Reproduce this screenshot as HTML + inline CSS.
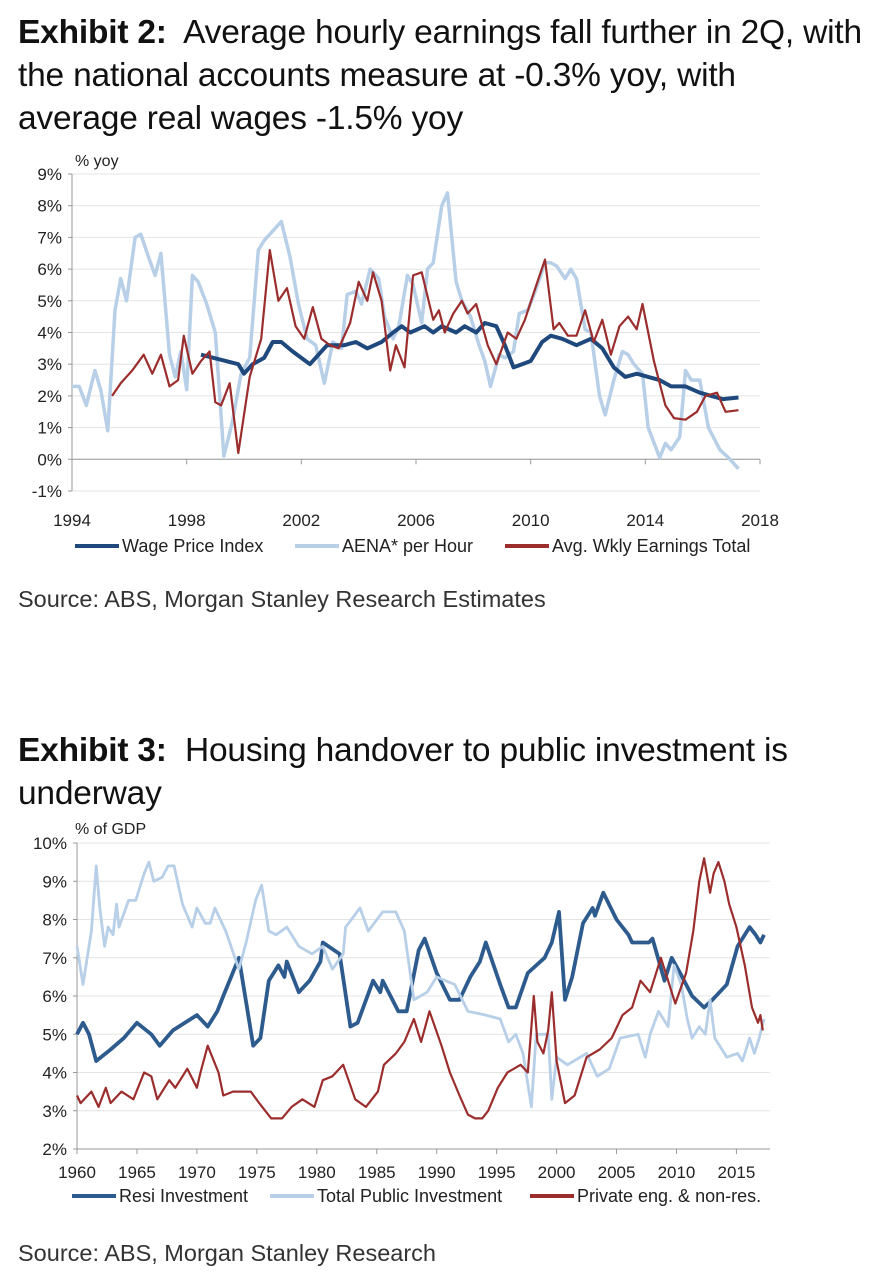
<!DOCTYPE html>
<html><head><meta charset="utf-8">
<style>
html,body{margin:0;padding:0;background:#fff;}
body{width:892px;height:1284px;position:relative;overflow:hidden;font-family:"Liberation Sans",sans-serif;color:#222;}
.t{position:absolute;left:18px;font-size:33.5px;line-height:43px;color:#111;white-space:nowrap;letter-spacing:-0.2px;}
.t b{font-weight:bold;}
.src{position:absolute;left:18px;font-size:23.5px;color:#333;white-space:nowrap;}
svg{position:absolute;left:0;top:0;}
svg text{font-family:"Liberation Sans Narrow","Liberation Sans",sans-serif;fill:#222;}
</style></head><body>
<div class="t" style="top:11px"><b>Exhibit 2:</b>&nbsp; Average hourly earnings fall further in 2Q, with<br>the national accounts measure at -0.3% yoy, with<br>average real wages -1.5% yoy</div>
<div class="src" style="top:586px">Source: ABS, Morgan Stanley Research Estimates</div>
<div class="t" style="top:729px"><b>Exhibit 3:</b>&nbsp; Housing handover to public investment is<br>underway</div>
<div class="src" style="top:1240px">Source: ABS, Morgan Stanley Research</div>
<svg width="892" height="1284" id="svg"></svg>
<script>
// ---- Chart 1 data ----
const c1YTicks=[-1,0,1,2,3,4,5,6,7,8,9];
const c1XTicks=[1994,1998,2002,2006,2010,2014,2018];
const wpiX=[1998.5,1999.8,2000.0,2000.3,2000.7,2001.0,2001.3,2001.7,2002.3,2002.6,2002.9,2003.5,2003.9,2004.3,2004.8,2005.2,2005.5,2005.8,2006.3,2006.6,2006.9,2007.4,2007.7,2008.1,2008.4,2008.8,2009.1,2009.4,2009.7,2010.0,2010.4,2010.7,2011.1,2011.6,2012.1,2012.5,2012.9,2013.3,2013.7,2014.1,2014.5,2014.9,2015.4,2015.9,2016.3,2016.7,2017.25];
const wpiY=[3.3,3.0,2.7,3.0,3.2,3.7,3.7,3.4,3.0,3.3,3.6,3.6,3.7,3.5,3.7,4.0,4.2,4.0,4.2,4.0,4.2,4.0,4.2,4.0,4.3,4.2,3.6,2.9,3.0,3.1,3.7,3.9,3.8,3.6,3.8,3.5,2.9,2.6,2.7,2.6,2.5,2.3,2.3,2.1,2.0,1.9,1.95];
const aenaX=[1994.0,1994.25,1994.5,1994.8,1995.0,1995.25,1995.5,1995.7,1995.9,1996.2,1996.4,1996.7,1996.9,1997.1,1997.4,1997.6,1997.8,1998.0,1998.2,1998.4,1998.7,1999.0,1999.3,1999.6,1999.9,2000.2,2000.5,2000.7,2001.0,2001.3,2001.6,2001.9,2002.2,2002.5,2002.8,2003.1,2003.4,2003.6,2003.9,2004.1,2004.4,2004.7,2004.9,2005.2,2005.4,2005.7,2005.9,2006.2,2006.4,2006.6,2006.9,2007.1,2007.4,2007.6,2007.9,2008.2,2008.4,2008.6,2008.9,2009.1,2009.4,2009.6,2009.9,2010.2,2010.5,2010.7,2010.9,2011.2,2011.4,2011.6,2011.9,2012.1,2012.4,2012.6,2012.9,2013.2,2013.4,2013.6,2013.9,2014.1,2014.5,2014.7,2014.9,2015.2,2015.4,2015.6,2015.9,2016.2,2016.6,2016.9,2017.25];
const aenaY=[2.3,2.3,1.7,2.8,2.2,0.9,4.7,5.7,5.0,7.0,7.1,6.3,5.8,6.5,3.3,2.6,3.4,2.2,5.8,5.6,4.9,4.0,0.1,1.2,2.7,3.2,6.6,6.9,7.2,7.5,6.4,4.9,3.8,3.6,2.4,3.7,3.5,5.2,5.3,4.9,6.0,5.7,4.5,3.8,4.2,5.8,5.5,4.3,6.0,6.2,8.0,8.4,5.6,5.0,4.5,3.6,3.1,2.3,3.3,3.2,3.4,4.6,4.7,5.4,6.2,6.2,6.1,5.7,6.0,5.7,4.1,4.0,2.0,1.4,2.5,3.4,3.3,3.0,2.7,1.0,0.05,0.5,0.3,0.7,2.8,2.5,2.5,1.0,0.3,0.05,-0.3];
const aweX=[1995.4,1995.7,1996.1,1996.5,1996.8,1997.1,1997.4,1997.7,1997.9,1998.2,1998.5,1998.8,1999.0,1999.2,1999.5,1999.8,2000.2,2000.6,2000.9,2001.2,2001.5,2001.8,2002.1,2002.4,2002.7,2003.0,2003.3,2003.7,2004.0,2004.3,2004.5,2004.8,2005.1,2005.3,2005.6,2005.9,2006.2,2006.6,2006.8,2007.0,2007.3,2007.6,2007.8,2008.1,2008.5,2008.8,2009.2,2009.5,2009.8,2010.2,2010.5,2010.8,2011.0,2011.3,2011.6,2011.9,2012.2,2012.5,2012.8,2013.1,2013.4,2013.7,2013.9,2014.3,2014.7,2015.0,2015.4,2015.8,2016.1,2016.5,2016.8,2017.25];
const aweY=[2.0,2.4,2.8,3.3,2.7,3.3,2.3,2.5,3.9,2.7,3.1,3.4,1.8,1.7,2.4,0.2,2.6,3.8,6.6,5.0,5.4,4.2,3.8,4.8,3.8,3.6,3.5,4.3,5.6,5.0,5.9,5.0,2.8,3.6,2.9,5.8,5.9,4.4,4.7,4.0,4.6,5.0,4.6,4.9,3.6,3.0,4.0,3.8,4.4,5.5,6.3,4.1,4.3,3.9,3.9,4.7,3.7,4.4,3.3,4.2,4.5,4.1,4.9,3.1,1.7,1.3,1.25,1.5,2.0,2.1,1.5,1.55];
// ---- Chart 2 data ----
const c2YTicks=[2,3,4,5,6,7,8,9,10];
const c2XTicks=[1960,1965,1970,1975,1980,1985,1990,1995,2000,2005,2010,2015];
const resiX=[1960,1960.5,1961,1961.6,1962.8,1963.9,1965,1966.2,1966.9,1968,1970,1970.9,1971.7,1972.2,1973.5,1974.7,1975.3,1976,1976.8,1977.3,1977.5,1978.5,1979.4,1980.3,1980.5,1981.9,1982.8,1983.4,1984.7,1985.3,1985.5,1986.8,1987.5,1988.5,1989,1990,1991.1,1991.9,1992.8,1993.6,1994.1,1995.3,1996,1996.6,1997.6,1999,1999.6,2000.2,2000.7,2001.3,2002.2,2003,2003.2,2003.9,2005,2006,2006.3,2007.7,2008,2009,2009.6,2010.3,2011.3,2012.3,2013,2014.2,2015.1,2016.1,2016.6,2017,2017.3];
const resiY=[5.0,5.3,5.0,4.3,4.6,4.9,5.3,5.0,4.7,5.1,5.5,5.2,5.6,6.0,7.0,4.7,4.9,6.4,6.8,6.5,6.9,6.1,6.4,6.9,7.4,7.1,5.2,5.3,6.4,6.1,6.4,5.6,5.6,7.2,7.5,6.6,5.9,5.9,6.5,6.9,7.4,6.3,5.7,5.7,6.6,7.0,7.4,8.2,5.9,6.5,7.9,8.3,8.1,8.7,8.0,7.6,7.4,7.4,7.5,6.4,7.0,6.6,6.0,5.7,5.9,6.3,7.3,7.8,7.6,7.4,7.6];
const pubX=[1960,1960.5,1961.2,1961.6,1961.9,1962.3,1962.6,1963,1963.3,1963.5,1964.3,1964.9,1965.6,1966,1966.4,1967.1,1967.6,1968.1,1968.8,1969.6,1970,1970.7,1971.1,1971.5,1972.4,1973.5,1974.1,1974.9,1975.4,1976,1976.6,1977.5,1978.5,1979.6,1980.5,1981.3,1982.2,1982.4,1983.6,1984.3,1985.5,1986.6,1987.3,1988.1,1989.2,1990,1991.5,1992.6,1994.1,1995.3,1996,1996.6,1997.2,1997.9,1998.3,1999.3,1999.6,2000,2000.9,2002.5,2003.4,2004.4,2005.3,2006.8,2007.4,2007.8,2008.5,2009.3,2009.8,2010.4,2010.9,2011.3,2011.9,2012.4,2012.8,2013.2,2014.2,2015.1,2015.5,2016.1,2016.5,2016.9,2017.3];
const pubY=[7.3,6.3,7.7,9.4,8.3,7.3,7.8,7.6,8.4,7.8,8.5,8.5,9.2,9.5,9.0,9.1,9.4,9.4,8.4,7.8,8.3,7.9,7.9,8.3,7.7,6.7,7.4,8.5,8.9,7.7,7.6,7.8,7.3,7.1,7.3,6.7,7.1,7.8,8.3,7.7,8.2,8.2,7.7,5.9,6.1,6.5,6.3,5.6,5.5,5.4,4.8,5.0,4.5,3.1,5.0,5.0,3.3,4.4,4.2,4.5,3.9,4.1,4.9,5.0,4.4,5.0,5.6,5.2,6.8,6.3,5.4,4.9,5.2,5.0,5.9,4.9,4.4,4.5,4.3,4.9,4.5,4.9,5.4];
const privX=[1960,1960.3,1961.2,1961.8,1962.4,1962.8,1963.7,1964.7,1965.6,1966.2,1966.7,1967.7,1968.2,1969.2,1970,1970.3,1970.9,1971.8,1972.2,1973,1973.7,1974.5,1975.2,1976.2,1977.1,1977.9,1978.8,1979.8,1980.5,1981.3,1982.2,1983.2,1984.1,1985.1,1985.6,1986.6,1987.3,1988.1,1988.7,1989.4,1990.4,1991.1,1991.9,1992.6,1993.2,1993.8,1994.3,1995.1,1995.9,1997,1997.6,1998.1,1998.4,1998.9,1999.3,1999.6,2000,2000.7,2001.5,2002.5,2003.6,2004.6,2005.5,2006.3,2007,2007.8,2008.7,2009.9,2010.8,2011.4,2011.9,2012.3,2012.8,2013.1,2013.5,2014,2014.4,2015,2015.7,2016.3,2016.8,2017,2017.2];
const privY=[3.4,3.2,3.5,3.1,3.6,3.2,3.5,3.3,4.0,3.9,3.3,3.8,3.6,4.1,3.6,4.0,4.7,4.0,3.4,3.5,3.5,3.5,3.2,2.8,2.8,3.1,3.3,3.1,3.8,3.9,4.2,3.3,3.1,3.5,4.2,4.5,4.8,5.4,4.8,5.6,4.7,4.0,3.4,2.9,2.8,2.8,3.0,3.6,4.0,4.2,4.0,6.0,4.8,4.5,5.1,6.1,4.3,3.2,3.4,4.4,4.6,4.9,5.5,5.7,6.4,6.1,7.0,5.8,6.6,7.7,9.0,9.6,8.7,9.2,9.5,9.0,8.4,7.8,6.8,5.7,5.3,5.5,5.1];

const svg=document.getElementById('svg');
const NS='http://www.w3.org/2000/svg';
function mk(tag,attrs,parent){const e=document.createElementNS(NS,tag);for(const k in attrs)e.setAttribute(k,attrs[k]);(parent||svg).appendChild(e);return e;}

function chart(o){
  const g=mk('g',{});
  
  
  const sx=v=>o.x0+(v-o.xMin)*(o.x1-o.x0)/(o.xMax-o.xMin);
  const sy=v=>o.y0+(o.yMax-v)*(o.y1-o.y0)/(o.yMax-o.yMin);
  o.yTicks.forEach(t=>{
    const gl=mk('line',{x1:o.x0,x2:o.x1,y1:sy(t),y2:sy(t),stroke:'#e4e4e4','stroke-width':1},g);
    
    
    mk('line',{x1:o.x0-4,x2:o.x0,y1:sy(t),y2:sy(t),stroke:'#999'},g);
    const tx=mk('text',{x:o.x0-10,y:sy(t)+6,'text-anchor':'end','font-size':17},g);
    tx.textContent=t+'%';
    
    
  });
  mk('line',{x1:o.x0,x2:o.x0,y1:sy(o.yMax),y2:sy(o.yMin),stroke:'#999'},g);
  mk('line',{x1:o.x0,x2:o.x1,y1:sy(o.xAxisAt),y2:sy(o.xAxisAt),stroke:'#999'},g);
  o.xTicks.forEach(t=>{
    mk('line',{x1:sx(t),x2:sx(t),y1:sy(o.xAxisAt),y2:sy(o.xAxisAt)+5,stroke:'#999'},g);
    const tx=mk('text',{x:sx(t),y:o.xLabelY,'text-anchor':'middle','font-size':17},g);
    tx.textContent=t;
    
    
  });
  const ut=mk('text',{x:o.unitX,y:o.unitY,'font-size':16},g);
  ut.textContent=o.unit;
  
  
  o.series.forEach(s=>{
    const d=s.x.map((v,i)=>(i?'L':'M')+sx(v).toFixed(1)+' '+sy(s.y[i]).toFixed(1)).join(' ');
    const p=mk('path',{d:d,fill:'none',stroke:s.c,'stroke-width':s.w,'stroke-linejoin':'round'},g);
    
    
  });
  o.legend.forEach(L=>{
    const s=o.series[L.i];
    const lg=mk('g',{},g);
    
    
    mk('line',{x1:L.x,x2:L.x+44,y1:o.legY-6,y2:o.legY-6,stroke:s.c,'stroke-width':4},lg);
    const t=mk('text',{x:L.x+47,y:o.legY,'font-size':18},lg);
    t.textContent=s.label;
  });
}

chart({name:'wages-chart',x0:72,x1:760,xMin:1994,xMax:2018,y0:174,y1:491,yMin:-1,yMax:9,
  yTicks:c1YTicks,xTicks:c1XTicks,xAxisAt:0,xLabelY:526,unit:'% yoy',unitX:75,unitY:166,
  legY:552,
  series:[
    {name:'aena-line',label:'AENA* per Hour',x:aenaX,y:aenaY,c:'#b8cfe8',w:3.5},
    {name:'wpi-line',label:'Wage Price Index',x:wpiX,y:wpiY,c:'#1f497d',w:4},
    {name:'awe-line',label:'Avg. Wkly Earnings Total',x:aweX,y:aweY,c:'#9b2d2d',w:2.2}
  ],
  legend:[{i:1,x:75},{i:0,x:295},{i:2,x:505}]});
chart({name:'investment-chart',x0:77,x1:770,xMin:1960,xMax:2017.8,y0:843,y1:1149,yMin:2,yMax:10,
  yTicks:c2YTicks,xTicks:c2XTicks,xAxisAt:2,xLabelY:1178,unit:'% of GDP',unitX:75,unitY:834,
  legY:1202,
  series:[
    {name:'resi-investment-line',label:'Resi Investment',x:resiX,y:resiY,c:'#2e5b8e',w:3.8},
    {name:'public-investment-line',label:'Total Public Investment',x:pubX,y:pubY,c:'#b8cfe8',w:2.8},
    {name:'private-investment-line',label:'Private eng. & non-res.',x:privX,y:privY,c:'#9b2d2d',w:2.2}
  ],
  legend:[{i:0,x:72},{i:1,x:270},{i:2,x:530}]});
</script>
</body></html>
